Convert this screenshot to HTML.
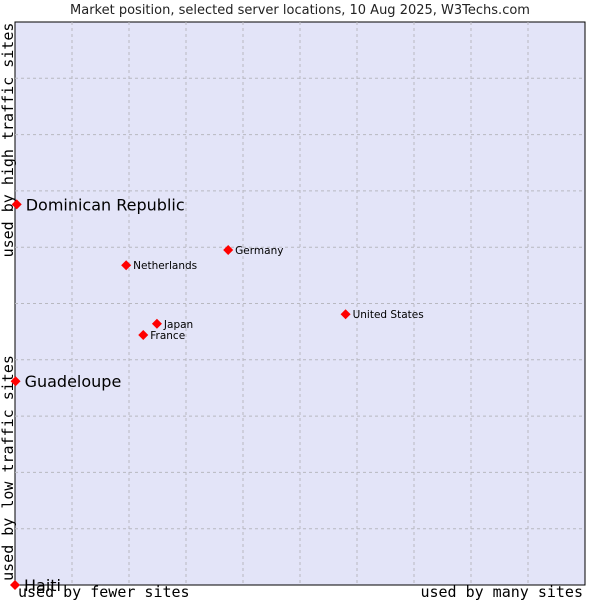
<!DOCTYPE html>
<html><head><meta charset="utf-8"><style>
body{margin:0;background:#fff;}
svg{display:block;font-family:"DejaVu Sans","Liberation Sans",sans-serif;}
</style></head><body>
<svg id="chart" width="600" height="600">
<text x="300" y="14" text-anchor="middle" font-size="13" fill="#222">Market position, selected server locations, 10 Aug 2025, W3Techs.com</text>
<rect x="15" y="22" width="570" height="563" fill="#e3e4f8" stroke="#000" stroke-width="1"/>
<g id="grid"></g>
<text transform="translate(13,140) rotate(-90)" text-anchor="middle" font-family="DejaVu Sans Mono,Liberation Mono,monospace" font-size="15" fill="#000">used by high traffic sites</text>
<text transform="translate(13,468) rotate(-90)" text-anchor="middle" font-family="DejaVu Sans Mono,Liberation Mono,monospace" font-size="15" fill="#000">used by low traffic sites</text>
<text x="18" y="597" font-family="DejaVu Sans Mono,Liberation Mono,monospace" font-size="15" fill="#000">used by fewer sites</text>
<text x="583" y="597" text-anchor="end" font-family="DejaVu Sans Mono,Liberation Mono,monospace" font-size="15" fill="#000">used by many sites</text>
<g id="points"></g>
</svg>
<script>
const names=["Dominican Republic","Guadeloupe","Haiti","Netherlands","Germany","United States","Japan","France"];
const xVals=[0.3,0.1,0,19.5,37.4,58,24.9,22.5];
const yVals=[67.6,36.2,0,56.8,59.5,48.1,46.4,44.4];
const big=[true,true,true,false,false,false,false,false];
const NS="http://www.w3.org/2000/svg";
const X0=15,X1=585,Y0=585,Y1=22;
function sx(v){return X0+v/100*(X1-X0);}
function sy(v){return Y0-v/100*(Y0-Y1);}
const grid=document.getElementById('grid');
for(let i=1;i<10;i++){
  const l=document.createElementNS(NS,'line');
  
  
  l.setAttribute('x1',sx(i*10));l.setAttribute('x2',sx(i*10));l.setAttribute('y1',Y1);l.setAttribute('y2',Y0);
  l.setAttribute('stroke','#b8b8c0');l.setAttribute('stroke-dasharray','3,3');grid.appendChild(l);
  const h=document.createElementNS(NS,'line');
  
  
  h.setAttribute('y1',sy(i*10));h.setAttribute('y2',sy(i*10));h.setAttribute('x1',X0);h.setAttribute('x2',X1);
  h.setAttribute('stroke','#b8b8c0');h.setAttribute('stroke-dasharray','3,3');grid.appendChild(h);
}
const pts=document.getElementById('points');
names.forEach((n,i)=>{
  const x=sx(xVals[i]),y=sy(yVals[i]);
  const d=document.createElementNS(NS,'path');
  
  
  d.setAttribute('d',`M${x} ${y-5}L${x+5} ${y}L${x} ${y+5}L${x-5} ${y}Z`);
  d.setAttribute('fill','#f00');pts.appendChild(d);
  const t=document.createElementNS(NS,'text');
  
  
  t.setAttribute('x',x+(big[i]?9:7));t.setAttribute('y',y+(big[i]?6:4));
  t.setAttribute('font-size',big[i]?'16':'10.5');t.setAttribute('fill','#000');
  t.textContent=n;pts.appendChild(t);
});
</script>
</body></html>
